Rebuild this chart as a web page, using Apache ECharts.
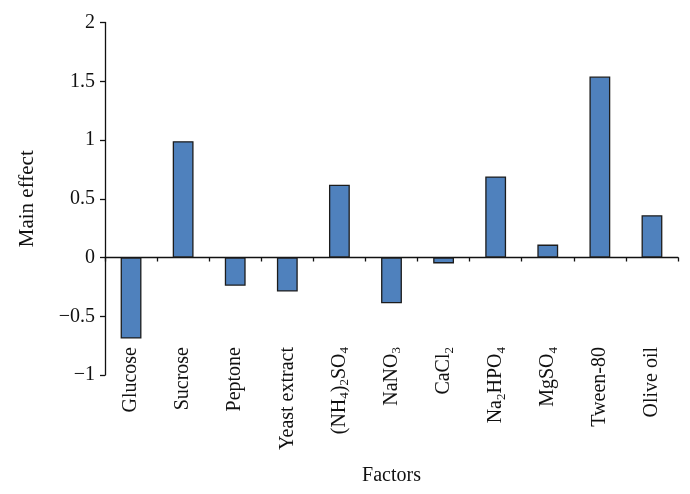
<!DOCTYPE html>
<html>
<head>
<meta charset="utf-8">
<script src="https://cdn.jsdelivr.net/npm/echarts@6/dist/echarts.min.js"></script>
<style>html,body{margin:0;padding:0;background:#fff}#c{width:690px;height:494px}</style>
</head>
<body>
<div id="c"></div>
<script>
var categories = ['Glucose', 'Sucrose', 'Peptone', 'Yeast extract', '(NH{s|4}){s|2}SO{s|4}', 'NaNO{s|3}', 'CaCl{s|2}', 'Na{s|2}HPO{s|4}', 'MgSO{s|4}', 'Tween-80', 'Olive oil'];
var mainEffect = [-0.69, 0.99, -0.24, -0.29, 0.62, -0.39, -0.05, 0.69, 0.11, 1.54, 0.36];
var yTicks = [-1, -0.5, 0, 0.5, 1, 1.5, 2];

var FONT = '"Liberation Serif", "DejaVu Serif", serif';
var chart = echarts.init(document.getElementById('c'));
chart.setOption({
  animation: false,
  backgroundColor: '#fff',
  grid: { left: 105, right: 12, top: 22.5, bottom: 119, containLabel: false, outerBoundsMode: 'none' },
  xAxis: {
    type: 'category',
    data: categories,
    name: 'Factors',
    nameLocation: 'middle',
    nameGap: 91,
    nameTextStyle: { fontFamily: FONT, fontSize: 20, color: '#111' },
    axisLine: { onZero: true, lineStyle: { color: '#111', width: 1.3 } },
    axisTick: { show: true, length: 4, lineStyle: { color: '#111', width: 1.3 } },
    axisLabel: {
      rotate: 90,
      margin: -28,
      interval: 0,
      hideOverlap: false,
      fontFamily: FONT,
      fontSize: 20,
      lineHeight: 24,
      color: '#111',
      rich: {
        s: { fontFamily: FONT, fontSize: 13, lineHeight: 13, verticalAlign: 'bottom', color: '#111' }
      }
    },
    splitLine: { show: false }
  },
  yAxis: {
    type: 'value',
    min: yTicks[0],
    max: yTicks[yTicks.length - 1],
    interval: 0.5,
    name: 'Main effect',
    nameLocation: 'middle',
    nameGap: 67,
    nameRotate: 90,
    nameTextStyle: { fontFamily: FONT, fontSize: 21, color: '#111' },
    axisLine: { show: true, lineStyle: { color: '#111', width: 1.3 } },
    axisTick: { show: true, length: 5, lineStyle: { color: '#111', width: 1.3 } },
    axisLabel: {
      margin: 10,
      fontFamily: FONT,
      fontSize: 20,
      color: '#111',
      formatter: function (v) { return v < 0 ? '\u2212' + Math.abs(v) : String(v); }
    },
    splitLine: { show: false }
  },
  series: [{
    type: 'bar',
    data: mainEffect,
    barWidth: '40%',
    itemStyle: { color: '#4f81bd', borderColor: '#1c1c1c', borderWidth: 1.3 }
  }]
});
</script>
</body>
</html>
